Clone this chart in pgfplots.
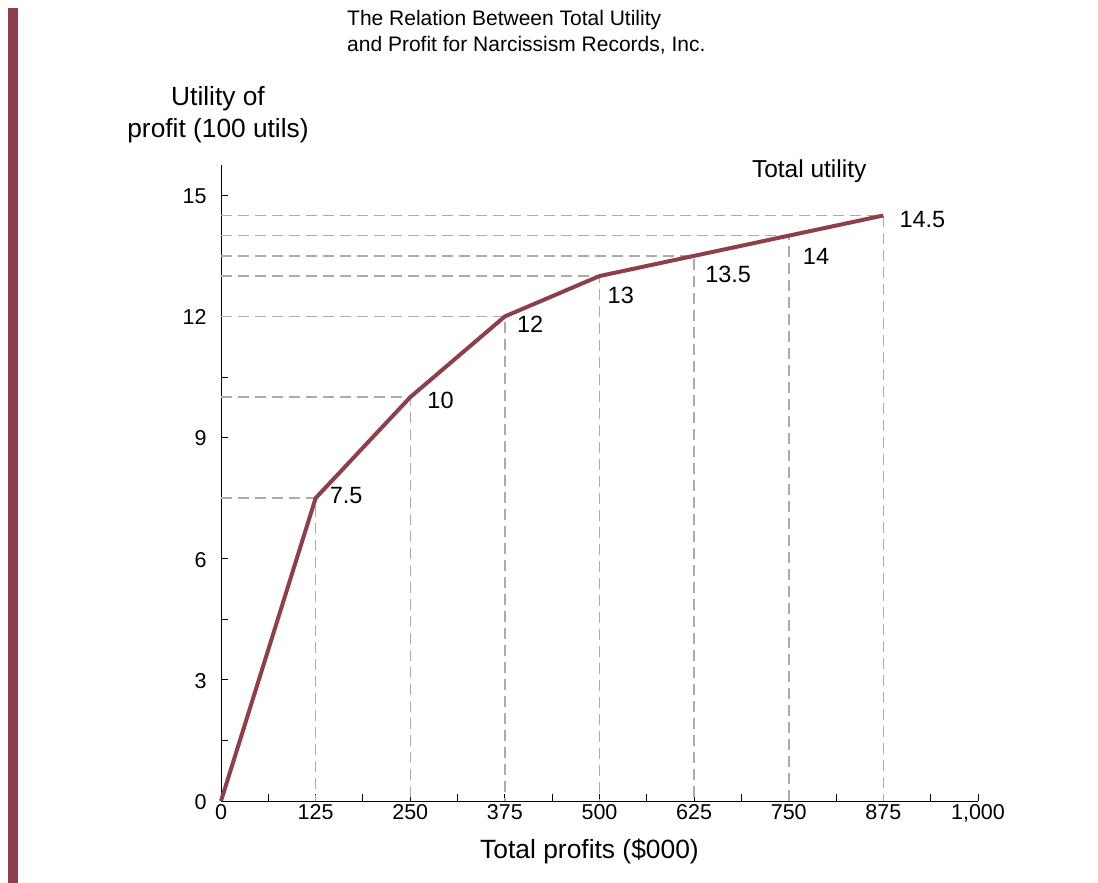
\documentclass[border=0pt]{standalone}
\usepackage{pgfplots}
\pgfplotsset{compat=1.18}
\usepackage{fontspec}
\setmainfont{Liberation Sans}
\definecolor{curve}{HTML}{8B404B}
\definecolor{guide}{HTML}{ABABAB}

\begin{document}
\begin{tikzpicture}[x=1pt,y=1pt]
\useasboundingbox (0,0) rectangle (1098,-883);
% side bar
\fill[curve] (8,-8) rectangle (18,-883);
% titles
\node[anchor=north west, inner sep=0, align=left, font=\fontsize{21}{26}\selectfont] at (347,-10)
  {The Relation Between Total Utility\\and Profit for Narcissism Records, Inc.};
\node[anchor=north, inner sep=0, align=center, font=\fontsize{26.3}{32}\selectfont] at (218,-86)
  {Utility of\\profit (100 utils)};

\begin{axis}[
  at={(221pt,-801pt)}, anchor=south west,
  scale only axis, width=757pt, height=636pt,
  xmin=0, xmax=1000, ymin=0, ymax=15.75,
  axis x line=bottom, axis y line=left,
  axis line style={-, line width=1pt, black},
  xtick={0,125,...,1000}, minor xtick={62.5,187.5,...,937.5},
  ytick={0,3,...,15}, minor ytick={1.5,4.5,...,13.5},
  tick align=inside, major tick length=7pt, minor tick length=7pt,
  tick style={line width=0.9pt, black},
  /pgf/number format/assume math mode=true,
  /pgf/number format/1000 sep={,},
  ticklabel style={font=\fontsize{21.5}{24}\selectfont},
  yticklabel style={xshift=-11pt, yshift=-1pt},
  xticklabel style={yshift=0pt},
  xlabel={Total profits (\$000)},
  xlabel style={font=\fontsize{26.4}{30}\selectfont, yshift=-10pt, xshift=-10pt},
  clip=false,
]
% guide lines from each point to the axes
\addplot[guide, line width=1.5pt, dash pattern=on 11pt off 6pt] coordinates {(0,7.5) (125,7.5) (125,0)};
\addplot[guide, line width=1.5pt, dash pattern=on 11pt off 6pt] coordinates {(0,10) (250,10) (250,0)};
\addplot[guide, line width=1.5pt, dash pattern=on 11pt off 6pt] coordinates {(0,12) (375,12) (375,0)};
\addplot[guide, line width=1.5pt, dash pattern=on 11pt off 6pt] coordinates {(0,13) (500,13) (500,0)};
\addplot[guide, line width=1.5pt, dash pattern=on 11pt off 6pt] coordinates {(0,13.5) (625,13.5) (625,0)};
\addplot[guide, line width=1.5pt, dash pattern=on 11pt off 6pt] coordinates {(0,14) (750,14) (750,0)};
\addplot[guide, line width=1.5pt, dash pattern=on 11pt off 6pt] coordinates {(0,14.5) (875,14.5) (875,0)};
% total utility curve
\addplot[curve, line width=4pt, line join=miter] coordinates {
  (0,0) (125,7.5) (250,10) (375,12) (500,13) (625,13.5) (750,14) (875,14.5)};
% value labels
\begin{scope}[every node/.style={anchor=west, inner sep=0, font=\fontsize{23.5}{26}\selectfont}]
\node[xshift=14pt, yshift=3pt]  at (axis cs:125,7.5) {7.5};
\node[xshift=17pt, yshift=-3pt] at (axis cs:250,10) {10};
\node[xshift=12pt, yshift=-8pt] at (axis cs:375,12) {12};
\node[xshift=8pt, yshift=-19pt] at (axis cs:500,13) {13};
\node[xshift=11pt, yshift=-19pt] at (axis cs:625,13.5) {13.5};
\node[xshift=14pt, yshift=-21pt] at (axis cs:750,14) {14};
\node[xshift=16pt, yshift=-4pt] at (axis cs:875,14.5) {14.5};
\node[anchor=center, font=\fontsize{24.5}{28}\selectfont] at (axis cs:777,15.6) {Total utility};
\end{scope}
\end{axis}
\end{tikzpicture}
\end{document}
